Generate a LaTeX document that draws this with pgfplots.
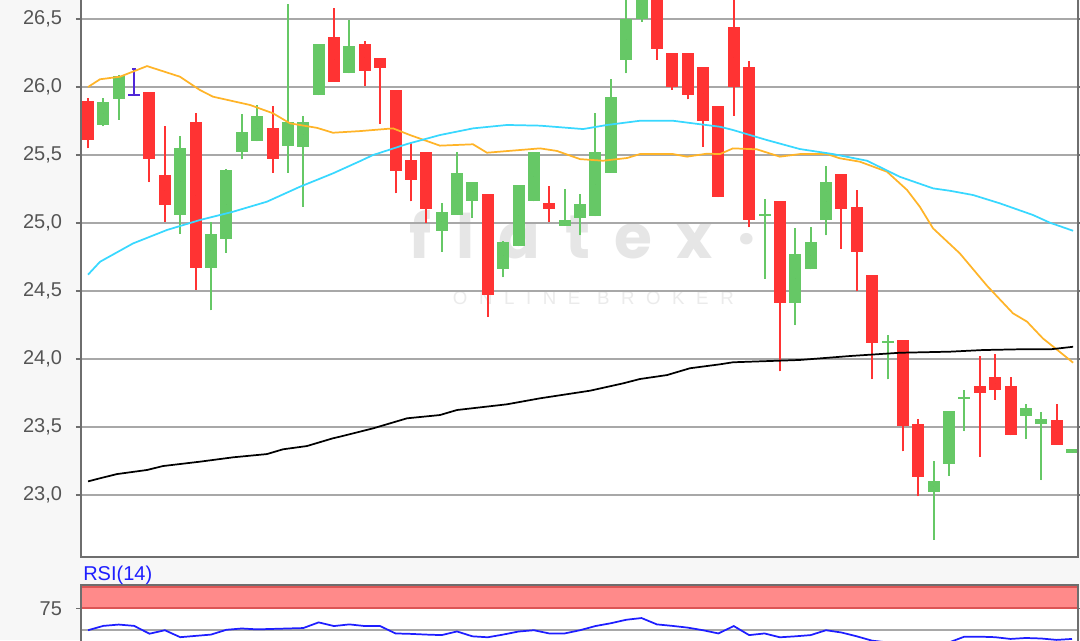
\documentclass[border=0pt]{standalone}
\usepackage{pgfplots}
\usepackage{pgfplotstable}
\pgfplotsset{compat=1.18}
\usepackage{fontspec}
\setmainfont{Liberation Sans}
\newfontfamily\wmfont[LetterSpace=40]{Poppins}
\newfontfamily\wmsmall[LetterSpace=62]{Liberation Sans}

\definecolor{bg}{HTML}{F7F7F7}
\definecolor{cgreen}{HTML}{66C866}
\definecolor{cred}{HTML}{FF3333}
\definecolor{cpurple}{HTML}{5028D8}
\definecolor{corange}{HTML}{FFB428}
\definecolor{ccyan}{HTML}{38D8FF}
\definecolor{gridgray}{HTML}{A8A8A8}
\definecolor{axisgray}{HTML}{6E6E6E}
\definecolor{labelgray}{HTML}{555555}
\definecolor{rsiblue}{HTML}{1E1EFF}
\definecolor{bandfill}{HTML}{FF8A8A}
\definecolor{bandedge}{HTML}{DC5555}
\definecolor{wmgray}{HTML}{E6E6E6}

% candles, x = bar index
\pgfplotstableread{
x o h l c
1 25.72 25.92 25.71 25.89
2 25.91 26.09 25.76 26.08
6 25.06 25.64 24.92 25.55
8 24.67 25.01 24.36 24.92
9 24.88 25.40 24.78 25.39
10 25.52 25.80 25.47 25.67
11 25.60 25.87 25.60 25.79
13 25.57 26.61 25.37 25.74
14 25.56 25.79 25.12 25.74
15 25.94 26.32 25.94 26.32
17 26.10 26.49 26.10 26.30
23 24.94 25.15 24.79 25.08
24 25.06 25.52 25.06 25.37
25 25.16 25.30 25.04 25.30
27 24.66 24.87 24.60 24.86
28 24.83 25.28 24.83 25.28
29 25.16 25.52 25.16 25.52
31 24.98 25.25 24.98 25.02
32 25.04 25.21 24.91 25.14
33 25.05 25.81 25.05 25.52
34 25.37 26.06 25.37 25.93
35 26.20 26.70 26.10 26.50
36 26.50 26.75 26.48 26.72
44 25.055 25.18 24.59 25.065
46 24.41 24.96 24.25 24.77
47 24.66 24.97 24.66 24.86
48 25.02 25.42 24.91 25.30
52 24.12 24.18 23.85 24.13
55 23.02 23.25 22.67 23.10
56 23.23 23.62 23.14 23.62
57 23.71 23.77 23.47 23.72
61 23.58 23.67 23.41 23.64
62 23.52 23.61 23.11 23.56
64 23.31 23.34 23.31 23.34
}\up

\pgfplotstableread{
x o h l c
0 25.90 25.92 25.55 25.61
4 25.96 25.96 25.30 25.47
5 25.35 25.71 25.01 25.13
7 25.74 25.81 24.51 24.67
12 25.70 25.86 25.37 25.47
16 26.37 26.58 26.04 26.04
18 26.32 26.34 26.01 26.12
19 26.21 26.21 25.73 26.14
20 25.98 25.98 25.22 25.38
21 25.46 25.59 25.16 25.32
22 25.52 25.52 25.00 25.10
26 25.21 25.21 24.31 24.47
30 25.15 25.27 25.01 25.10
37 26.72 26.75 26.20 26.28
38 26.25 26.25 25.98 26.00
39 26.25 26.25 25.91 25.94
40 26.15 26.15 25.56 25.75
41 25.86 25.86 25.19 25.19
42 26.44 26.70 25.79 26.00
43 26.15 26.19 24.97 25.02
45 25.16 25.16 23.91 24.41
49 25.36 25.36 24.81 25.10
50 25.12 25.24 24.50 24.79
51 24.62 24.62 23.85 24.12
53 24.14 24.14 23.32 23.51
54 23.52 23.56 22.99 23.13
58 23.80 24.02 23.28 23.75
59 23.87 24.04 23.70 23.77
60 23.80 23.87 23.44 23.44
63 23.55 23.67 23.37 23.37
}\down

\pgfplotstableread{
x o h l c
3 25.94 26.13 25.94 25.94
}\flat

\pgfplotsset{
  wick/.style={only marks, mark=*, mark size=0pt, mark options={draw=none, fill=none}, forget plot,
    error bars/.cd, y dir=both, y explicit, error mark=none,
    error bar style={line width=1.5pt, color=#1}},
  body/.style 2 args={only marks, mark=*, mark size=0pt, mark options={draw=none, fill=none}, forget plot,
    error bars/.cd, y dir=both, y explicit, error mark=none,
    error bar style={line width=#2, color=#1}},
}

\begin{document}
\begin{tikzpicture}
\path[use as bounding box] (0,0) rectangle (810pt,-480pt);
\clip (0,0) rectangle (810pt,-480pt);
\fill[bg] (0,0) rectangle (810pt,-480pt);
\fill[white] (60.75pt,0) rectangle (808.5pt,-417.75pt);
\fill[white] (60.75pt,-438.375pt) rectangle (808.5pt,-480pt);

% watermark
\node[text=wmgray, font=\wmfont\bfseries\fontsize{46}{46}\selectfont] at (437pt,-176pt) {flatex·};
\node[text=wmgray!80!white, font=\wmsmall\fontsize{14}{14}\selectfont] at (445pt,-223.5pt) {ONLINE BROKER};

\begin{axis}[
  at={(60.75pt,0pt)}, anchor=north west,
  scale only axis, width=747.75pt, height=417.75pt,
  xmin=-0.455, xmax=64.39, ymin=22.544, ymax=26.64,
  axis line style={draw=none},
  xtick=\empty,
  ytick={23,23.5,24,24.5,25,25.5,26,26.5},
  ymajorgrids, grid style={color=gridgray, line width=1.5pt},
  tick align=outside, major tick length=3.75pt,
  tick style={color=axisgray, line width=1.2pt},
  yticklabel style={font=\fontsize{15}{18}\selectfont, text=labelgray, xshift=-7pt},
  /pgf/number format/fixed, /pgf/number format/fixed zerofill,
  /pgf/number format/precision=1, /pgf/number format/use comma,
  /pgf/number format/assume math mode=true,
]
% wicks
\addplot[wick=cgreen] table[x=x, y=l, y error plus expr=\thisrow{h}-\thisrow{l}, y error minus expr=0] {\up};
\addplot[wick=cred] table[x=x, y=l, y error plus expr=\thisrow{h}-\thisrow{l}, y error minus expr=0] {\down};
\addplot[wick=cpurple] table[x=x, y=l, y error plus expr=\thisrow{h}-\thisrow{l}, y error minus expr=0] {\flat};
% bodies
\addplot[body={cgreen}{9pt}] table[x=x, y expr={(\thisrow{o}+\thisrow{c})/2}, y error expr={max(abs(\thisrow{c}-\thisrow{o})/2,0.0074)}] {\up};
\addplot[body={cred}{9pt}] table[x=x, y expr={(\thisrow{o}+\thisrow{c})/2}, y error expr={max(abs(\thisrow{c}-\thisrow{o})/2,0.0074)}] {\down};
\addplot[body={cpurple}{9pt}] table[x=x, y=o, y error expr=0.0074] {\flat};
\addplot[body={cpurple}{3pt}] table[x=x, y=h, y error expr=0.0074] {\flat};

% moving averages
\addplot[corange, line width=1.3pt] coordinates {
(0,26.00) (0.78,26.057) (2.08,26.076) (3.84,26.154) (5.98,26.076) (7.28,25.978)
(8.13,25.929) (10.54,25.868) (12.03,25.807) (13.14,25.733) (14.89,25.70) (15.93,25.664)
(17.69,25.676) (19.84,25.696) (20.94,25.647) (22.89,25.569) (25.04,25.579) (25.95,25.517)
(29.4,25.549) (30.5,25.53) (32.0,25.47) (33.5,25.458) (35.06,25.478) (35.9,25.507)
(38.05,25.507) (38.96,25.488) (40.26,25.51) (41.1,25.507) (41.95,25.549) (43.5,25.542)
(45.0,25.488) (46.3,25.507) (48.07,25.507) (48.9,25.476) (50.2,25.451) (51.97,25.377)
(53.27,25.243) (54.1,25.12) (54.96,24.961) (56.7,24.777) (58.47,24.539) (60.16,24.336)
(61.07,24.275) (62.1,24.152) (63.0,24.071) (64.07,23.973)
};
\addplot[ccyan, line width=1.3pt] coordinates {
(0,24.62) (0.78,24.715) (2.93,24.85) (5.14,24.949) (7.28,25.022) (9.43,25.083)
(11.64,25.157) (13.79,25.267) (15.93,25.365) (17.69,25.455) (18.54,25.50) (20.75,25.581)
(22.89,25.647) (25.04,25.696) (27.25,25.721) (29.4,25.716) (32.2,25.691) (33.76,25.721)
(35.9,25.752) (38.05,25.752) (39.35,25.733) (41.1,25.708) (41.95,25.684) (44.16,25.61)
(46.3,25.544) (48.46,25.507) (50.67,25.458) (52.8,25.34) (54.96,25.255) (56.07,25.237)
(57.56,25.206) (59.3,25.145) (61.46,25.059) (62.57,25.002) (64.07,24.943)
};
\addplot[black, line width=1.3pt] coordinates {
(0,23.10) (0.78,23.123) (1.89,23.154) (3.84,23.184) (4.88,23.213) (7.28,23.245)
(9.43,23.277) (11.64,23.301) (12.68,23.336) (14.24,23.36) (15.93,23.417) (16.39,23.429)
(18.54,23.49) (20.75,23.564) (22.89,23.588) (24.0,23.625) (27.25,23.667) (29.4,23.711)
(32.65,23.767) (34.8,23.821) (35.9,23.853) (37.66,23.882) (39.15,23.932) (41.1,23.961)
(41.95,23.976) (46.3,23.993) (49.56,24.022) (52.8,24.046) (56.07,24.054) (58.2,24.066)
(60.4,24.071) (62.57,24.071) (64.07,24.09)
};
\end{axis}

\begin{axis}[
  at={(60.75pt,-438.375pt)}, anchor=north west,
  scale only axis, width=747.75pt, height=66.94pt,
  xmin=-0.455, xmax=64.39, ymin=0, ymax=102.5,
  axis line style={draw=none},
  xtick=\empty, ytick={75},
  ymajorgrids, grid style={color=gridgray, line width=1.5pt},
  tick align=outside, major tick length=3.75pt,
  tick style={color=axisgray, line width=1.2pt},
  yticklabel style={font=\fontsize{15}{18}\selectfont, text=labelgray, xshift=-7pt},
  /pgf/number format/assume math mode=true,
]
\draw[gridgray, line width=1.5pt] (axis cs:-1,50) -- (axis cs:70,50);
\fill[bandfill] (axis cs:-1,75) rectangle (axis cs:70,100);
\draw[bandedge, line width=1.5pt] (axis cs:-1,75) -- (axis cs:70,75);
\draw[bandedge, line width=1.5pt] (axis cs:-1,100) -- (axis cs:70,100);
\addplot[rsiblue, line width=1.3pt] coordinates {
(0,50) (1,55) (2,56.5) (3,55) (4,46) (5,50) (6,42) (7,43.5) (8,45) (9,50.5)
(10,52) (11,51) (12,51.5) (13,52) (14,52.5) (15,59) (16,54.8) (17,56.7) (18,54.8) (19,54.8)
(20,46.3) (21,45.8) (22,45) (23,44.4) (24,48.6) (25,43) (26,41.9) (27,45) (28,48.5) (29,50)
(30,46.3) (31,46.3) (32,50) (33,54.8) (34,58) (35,62) (36,64) (37,56.7) (38,55) (39,53)
(40,50) (41,46.3) (42,54.8) (43,44.4) (44,46.3) (45,41.9) (46,43) (47,44.4) (48,50) (49,47.4)
(50,43) (51,38) (52,36) (53,31) (54,28) (55,30) (56,36) (57,42.6) (58,42.6) (59,42)
(60,40) (61,41.1) (62,40.5) (63,38.9) (64,40)
};
\end{axis}

% panel borders
\draw[axisgray, line width=1.5pt] (60.75pt,0) -- (60.75pt,-417.75pt) -- (808.5pt,-417.75pt) -- (808.5pt,0);
\draw[axisgray, line width=1.5pt] (60.75pt,-490pt) -- (60.75pt,-438.375pt) -- (808.5pt,-438.375pt) -- (808.5pt,-490pt);
\node[anchor=base west, inner sep=0pt, text=rsiblue, font=\fontsize{15}{18}\selectfont] at (62.25pt,-435.2pt) {RSI(14)};
\end{tikzpicture}
\end{document}
